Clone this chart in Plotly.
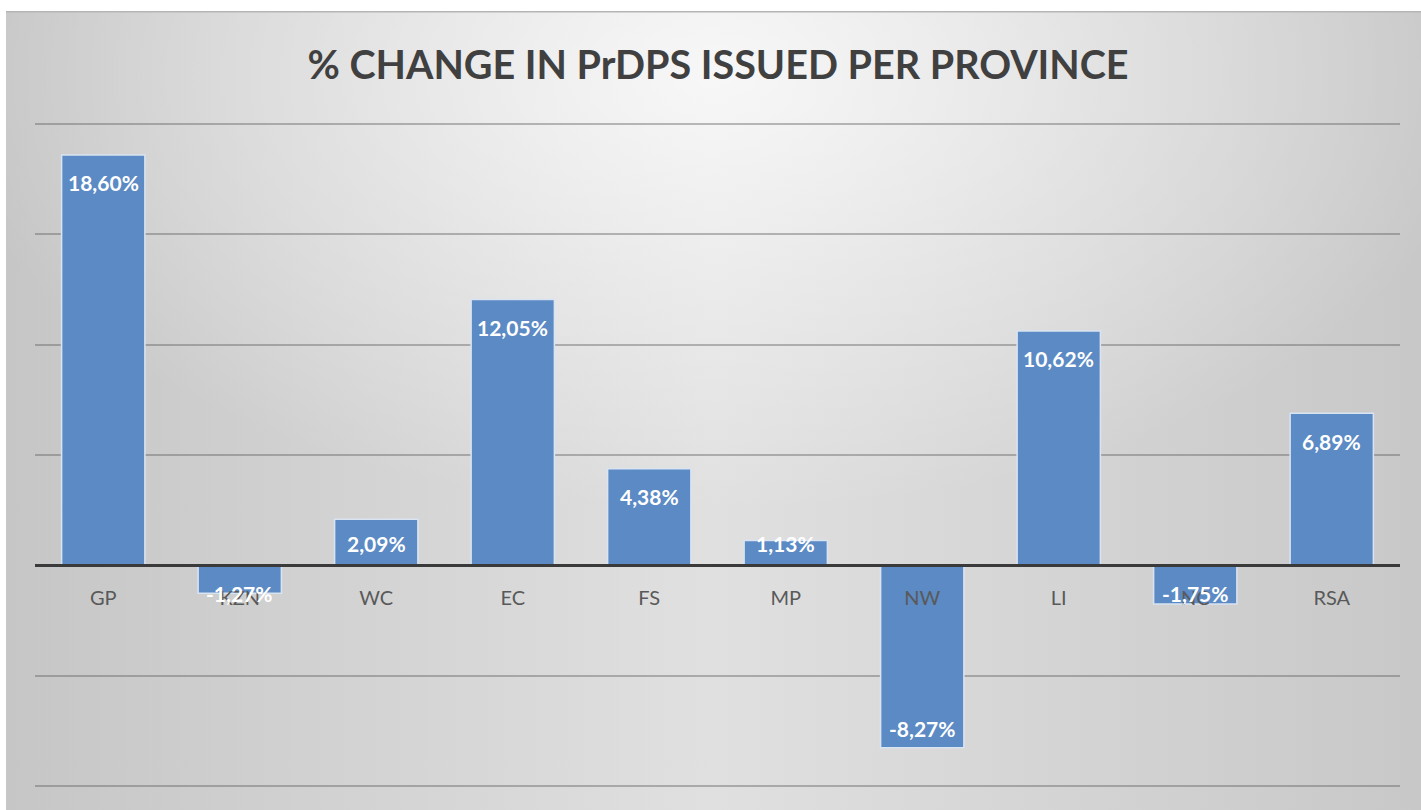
import base64
import plotly.graph_objects as go

# ---- data ----
categories = ["GP", "KZN", "WC", "EC", "FS", "MP", "NW", "LI", "NC", "RSA"]
pct_change = [18.60, -1.27, 2.09, 12.05, 4.38, 1.13, -8.27, 10.62, -1.75, 6.89]
y_ticks = [-10, -5, 0, 5, 10, 15, 20]

W, H = 1421, 810
ML, MR, MT, MB = 35, 21, 122, 22
PW, PH = W - ML - MR, H - MT - MB
Y_MIN, Y_MAX = -10.09, 20.09
PPU = PH / (Y_MAX - Y_MIN)  # pixels per unit

labels = [f"{v:.2f}%".replace(".", ",") for v in pct_change]

# gradient background panel as SVG
svg = '''<svg xmlns="http://www.w3.org/2000/svg" width="1415" height="799" viewBox="0 0 1415 799" preserveAspectRatio="none">
<defs>
<linearGradient id="h" x1="0" y1="0" x2="1" y2="0">
<stop offset="0" stop-color="#c6c6c6"/><stop offset="0.5" stop-color="#e0e0e0"/><stop offset="1" stop-color="#c8c8c8"/>
</linearGradient>
<radialGradient id="g" cx="0.5" cy="0.08" r="0.55" fx="0.5" fy="0.08">
<stop offset="0" stop-color="#ffffff" stop-opacity="0.75"/><stop offset="0.5" stop-color="#ffffff" stop-opacity="0.35"/><stop offset="1" stop-color="#ffffff" stop-opacity="0"/>
</radialGradient></defs>
<rect x="0" y="0" width="1415" height="799" fill="url(#h)"/>
<rect x="0" y="0" width="1415" height="799" fill="url(#g)"/>
<line x1="0" y1="0.75" x2="1415" y2="0.75" stroke="#b5b5b5" stroke-width="1.5"/>
</svg>'''
src = "data:image/svg+xml;base64," + base64.b64encode(svg.encode()).decode()

fig = go.Figure(go.Bar(
    x=categories, y=pct_change,
    marker=dict(color="#5b8ac4", line=dict(color="#d9e4f2", width=1.5)),
    hoverinfo="x+y",
))

# data labels, inside the end of each bar
for cat, v, lab in zip(categories, pct_change, labels):
    h = abs(v) * PPU
    if v >= 0:
        shift = -min(28, h - 22)
    else:
        shift = min(19, h - 28)
    fig.add_annotation(x=cat, y=v, text=f"<b>{lab}</b>", showarrow=False,
                       yanchor="middle", yshift=shift,
                       font=dict(family="Lato", size=21, color="white"))

zero_frac = (0 - Y_MIN) / (Y_MAX - Y_MIN)

fig.update_layout(
    width=W, height=H,
    margin=dict(l=ML, r=MR, t=MT, b=MB),
    paper_bgcolor="white", plot_bgcolor="rgba(0,0,0,0)",
    bargap=0.39,
    showlegend=False,
    title=dict(text="<b>% CHANGE IN PrDPS ISSUED PER PROVINCE</b>",
               x=718 / W, xanchor="center", y=1 - 65 / H, yanchor="middle",
               yref="container",
               font=dict(family="Lato", size=39.5, color="#404040")),
    xaxis=dict(anchor="free", position=zero_frac, showline=True, linecolor="#3a3a3a",
               linewidth=2.5, ticks="outside", ticklen=14, tickcolor="rgba(0,0,0,0)",
               tickfont=dict(family="Lato", size=20, color="#595959"),
               showgrid=False, layer="above traces"),
    yaxis=dict(range=[Y_MIN, Y_MAX], tickvals=y_ticks, showticklabels=False,
               showgrid=True, gridcolor="rgba(95,95,95,0.42)", gridwidth=1.5, zeroline=False),
    images=[dict(source=src, xref="paper", yref="paper",
                 x=(6 - ML) / PW, y=1 + (MT - 11) / PH,
                 sizex=(W - 6) / PW, sizey=(H - 11) / PH,
                 xanchor="left", yanchor="top", sizing="stretch", layer="below")],
)

fig.write_html("out.html", config={"displayModeBar": False},
               post_script="document.body.style.margin='0';")
